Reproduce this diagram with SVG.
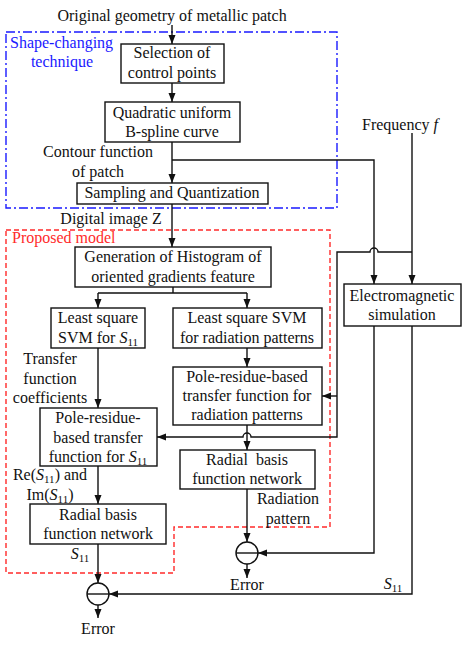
<svg xmlns="http://www.w3.org/2000/svg" width="469" height="646" viewBox="0 0 469 646">
<style>
text{font-family:"Liberation Serif","Times New Roman",serif;font-size:16px;fill:#111}
.c{text-anchor:middle}
.box{fill:#fff;stroke:#111;stroke-width:1.4}
.ln{fill:none;stroke:#111;stroke-width:1.4}
.ar{fill:none;stroke:#111;stroke-width:1.4;marker-end:url(#ah)}
.blue{fill:#1a1aff}
.red{fill:#ff2a2a}
.it{font-style:italic}
.sub{font-size:11px}
</style>
<defs>
<marker id="ah" markerWidth="9" markerHeight="8" refX="9" refY="4" orient="auto" markerUnits="userSpaceOnUse">
<path d="M0,0.5 L9,4 L0,7.5 z" fill="#111"/>
</marker>
</defs>
<rect width="469" height="646" fill="#fff"/>

<g id="group-shape">
<rect x="6" y="32" width="331" height="176" fill="none" stroke="#1a1aff" stroke-width="1.4" stroke-dasharray="9 3 2 3"/>
<text x="10" y="48" class="blue">Shape-changing</text>
<text x="62" y="67" class="c blue">technique</text>
</g>
<g id="group-proposed">
<path d="M6,230 H330 V527 H174 V573 H6 Z" fill="none" stroke="#ff2a2a" stroke-width="1.4" stroke-dasharray="5 3"/>
<text x="12" y="243" class="red">Proposed model</text>
</g>

<g id="connectors">
<path class="ar" d="M172,25 V44"/>
<path class="ar" d="M172,83 V102"/>
<path class="ar" d="M172,142 V183"/>
<path class="ar" d="M172,160 H374 V284"/>
<path class="ar" d="M172,204 V247"/>
<path class="ln" d="M173,287 V293 M98,293 H247"/>
<path class="ar" d="M98,293 V308"/>
<path class="ar" d="M247,293 V308"/>
<path class="ar" d="M247,348 V367"/>
<path class="ar" d="M98,348 V408"/>
<path class="ar" d="M412,133 V284"/>
<path class="ar" d="M412,252 H378 A4,4 0 0 0 370,252 H337 V437 H251 A4,4 0 0 0 243,437 H157"/>
<path class="ar" d="M337,396 H322"/>
<path class="ar" d="M247,425 V450"/>
<path class="ar" d="M98,466 V504"/>
<path class="ar" d="M98,544 V583"/>
<path class="ar" d="M98,605 V618"/>
<path class="ar" d="M412,326 V594 H109"/>
<path class="ar" d="M374,326 V553 H258"/>
<path class="ar" d="M247,489 V542"/>
<path class="ar" d="M247,564 V578"/>
</g>

<g id="label-top"><text x="172" y="21" class="c">Original geometry of metallic patch</text></g>

<g id="node-selection">
<rect class="box" x="121" y="44" width="103" height="39"/>
<text x="172" y="58" class="c">Selection of</text>
<text x="172" y="78" class="c">control points</text>
</g>
<g id="node-bspline">
<rect class="box" x="105" y="102" width="135" height="40"/>
<text x="172" y="118" class="c">Quadratic uniform</text>
<text x="172" y="137" class="c">B-spline curve</text>
</g>
<g id="label-contour">
<text x="98" y="157" class="c">Contour function</text>
<text x="98" y="177" class="c">of patch</text>
</g>
<g id="node-sampling">
<rect class="box" x="77" y="183" width="191" height="21"/>
<text x="172" y="198" class="c">Sampling and Quantization</text>
</g>
<g id="label-digital"><text x="111" y="224" class="c">Digital image Z</text></g>

<g id="node-hog">
<rect class="box" x="75" y="247" width="196" height="40"/>
<text x="173" y="262" class="c">Generation of Histogram of</text>
<text x="173" y="282" class="c">oriented gradients feature</text>
</g>
<g id="node-lssvm-s11">
<rect class="box" x="51" y="308" width="94" height="40"/>
<text x="98" y="323" class="c">Least square</text>
<text x="98" y="343" class="c">SVM for <tspan class="it">S</tspan><tspan class="sub" dy="3">11</tspan></text>
</g>
<g id="node-lssvm-rad">
<rect class="box" x="173" y="308" width="149" height="40"/>
<text x="247" y="323" class="c">Least square SVM</text>
<text x="247" y="343" class="c">for radiation patterns</text>
</g>
<g id="label-transfer">
<text x="50" y="364" class="c">Transfer</text>
<text x="50" y="384" class="c">function</text>
<text x="50" y="403" class="c">coefficients</text>
</g>
<g id="node-pole-rad">
<rect class="box" x="173" y="367" width="149" height="58"/>
<text x="247" y="382" class="c">Pole-residue-based</text>
<text x="247" y="401" class="c">transfer function for</text>
<text x="247" y="420" class="c">radiation patterns</text>
</g>
<g id="node-pole-s11">
<rect class="box" x="40" y="408" width="117" height="58"/>
<text x="98" y="423" class="c">Pole-residue-</text>
<text x="98" y="443" class="c">based transfer</text>
<text x="98" y="462" class="c">function for <tspan class="it">S</tspan><tspan class="sub" dy="3">11</tspan></text>
</g>
<g id="label-reim">
<text x="50" y="480" class="c">Re(<tspan class="it">S</tspan><tspan class="sub" dy="3">11</tspan><tspan dy="-3">) and</tspan></text>
<text x="50" y="500" class="c">Im(<tspan class="it">S</tspan><tspan class="sub" dy="3">11</tspan><tspan dy="-3">)</tspan></text>
</g>
<g id="node-rbf-s11">
<rect class="box" x="30" y="504" width="136" height="40"/>
<text x="98" y="520" class="c">Radial basis</text>
<text x="98" y="539" class="c">function network</text>
</g>
<g id="label-s11-left"><text x="80" y="559" class="c"><tspan class="it">S</tspan><tspan class="sub" dy="3">11</tspan></text></g>
<g id="node-sum1">
<circle cx="98" cy="594" r="11" fill="#fff" stroke="#111" stroke-width="1.4"/>
<path class="ln" d="M87,594 H109"/>
</g>
<g id="label-error1"><text x="98" y="634" class="c">Error</text></g>

<g id="node-rbf-rad">
<rect class="box" x="180" y="450" width="135" height="39"/>
<text x="247" y="465" class="c" xml:space="preserve">Radial  basis</text>
<text x="247" y="484" class="c">function network</text>
</g>
<g id="label-radpattern">
<text x="288" y="504" class="c">Radiation</text>
<text x="288" y="524" class="c">pattern</text>
</g>
<g id="node-sum2">
<circle cx="247" cy="553" r="11" fill="#fff" stroke="#111" stroke-width="1.4"/>
<path class="ln" d="M236,553 H258"/>
</g>
<g id="label-error2"><text x="247" y="590" class="c">Error</text></g>
<g id="label-s11-right"><text x="393" y="589" class="c"><tspan class="it">S</tspan><tspan class="sub" dy="3">11</tspan></text></g>

<g id="label-frequency"><text x="362" y="130">Frequency <tspan class="it">f</tspan></text></g>
<g id="node-em">
<rect class="box" x="344" y="284" width="117" height="42"/>
<text x="402" y="301" class="c">Electromagnetic</text>
<text x="402" y="320" class="c">simulation</text>
</g>
</svg>
